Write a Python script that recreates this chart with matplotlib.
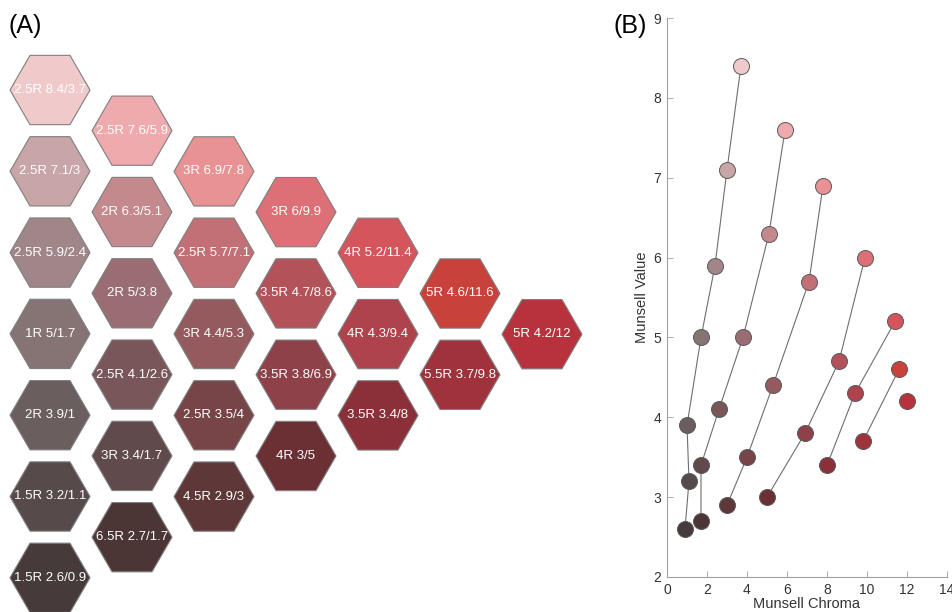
import numpy as np
import matplotlib.pyplot as plt
from matplotlib.patches import RegularPolygon

plt.rcParams['font.family'] = ['Liberation Sans', 'DejaVu Sans']

# Munsell samples, one list per column of the hexagon chart
group = [0, 0, 0, 0, 0, 0, 0,
         1, 1, 1, 1, 1, 1,
         2, 2, 2, 2, 2,
         3, 3, 3, 3,
         4, 4, 4,
         5, 5,
         6]
hues = ['2.5R', '2.5R', '2.5R', '1R', '2R', '1.5R', '1.5R',
        '2.5R', '2R', '2R', '2.5R', '3R', '6.5R',
        '3R', '2.5R', '3R', '2.5R', '4.5R',
        '3R', '3.5R', '3.5R', '4R',
        '4R', '4R', '3.5R',
        '5R', '5.5R',
        '5R']
values = [8.4, 7.1, 5.9, 5, 3.9, 3.2, 2.6,
          7.6, 6.3, 5, 4.1, 3.4, 2.7,
          6.9, 5.7, 4.4, 3.5, 2.9,
          6, 4.7, 3.8, 3,
          5.2, 4.3, 3.4,
          4.6, 3.7,
          4.2]
chromas = [3.7, 3, 2.4, 1.7, 1, 1.1, 0.9,
           5.9, 5.1, 3.8, 2.6, 1.7, 1.7,
           7.8, 7.1, 5.3, 4, 3,
           9.9, 8.6, 6.9, 5,
           11.4, 9.4, 8,
           11.6, 9.8,
           12]
colors = ['#f0c9ca', '#c8a5a7', '#a08688', '#857473', '#6a5e5e', '#574a4a', '#463b3a',
          '#eeaaac', '#c4898d', '#9a6d72', '#795759', '#614a4b', '#4c3535',
          '#e89293', '#c27076', '#955a5e', '#774548', '#5e3738',
          '#dc7076', '#b4525a', '#8e4148', '#6b3034',
          '#d4565c', '#ae434c', '#8b3039',
          '#c8413a', '#a0323b',
          '#b8323e']

fig = plt.figure(figsize=(9.53, 6.12), dpi=100)

# (A) hexagon chart, drawn in pixel-like units
axA = fig.add_axes([0, 0, 600 / 953, 1])
axA.set_xlim(0, 600)
axA.set_ylim(612, 0)
axA.set_aspect('equal')
axA.axis('off')

row = [0] * 7
for g, h, v, c, col in zip(group, hues, values, chromas, colors):
    cx = 50 + 82 * g
    cy = 90 + 40.7 * g + 81.3 * row[g]
    row[g] += 1
    hexa = RegularPolygon((cx, cy), numVertices=6, radius=40, orientation=np.pi / 6,
                          facecolor=col, edgecolor='#7f7f7f', linewidth=0.8)
    axA.add_patch(hexa)
    axA.text(cx, cy, f'{h} {v:g}/{c:g}', color='white', fontsize=9.5,
             ha='center', va='center')

fig.text(9 / 953, 1 - 26 / 612, '(A)', fontsize=18, ha='left', va='center')
fig.text(614 / 953, 1 - 26 / 612, '(B)', fontsize=18, ha='left', va='center')

# (B) value vs chroma
axB = fig.add_axes([667 / 953, 35 / 612, 280 / 953, 559 / 612])
group = np.array(group)
values = np.array(values)
chromas = np.array(chromas)
for g in range(7):
    m = group == g
    axB.plot(chromas[m], values[m], color='#6e6e6e', linewidth=0.8, zorder=1)
for v, c, col in zip(values, chromas, colors):
    axB.plot(c, v, 'o', markersize=11.5, markerfacecolor=col,
             markeredgecolor='#5a5a5a', markeredgewidth=0.7, zorder=2)

axB.set_xlim(0, 14)
axB.set_ylim(2, 9)
axB.set_xticks(range(0, 15, 2))
axB.set_yticks(range(2, 10))
for s in ['top', 'right']:
    axB.spines[s].set_visible(False)
for s in ['left', 'bottom']:
    axB.spines[s].set_color('#a0a0a0')
    axB.spines[s].set_linewidth(0.8)
axB.tick_params(direction='in', length=4, width=0.6, color='#a0a0a0',
                labelsize=10, labelcolor='#333333', pad=4)
axB.set_xlabel('Munsell Chroma', fontsize=10.5, color='#333333', labelpad=0)
axB.set_ylabel('Munsell Value', fontsize=10.5, color='#333333', labelpad=3)

fig.savefig('out.png', dpi=100)
